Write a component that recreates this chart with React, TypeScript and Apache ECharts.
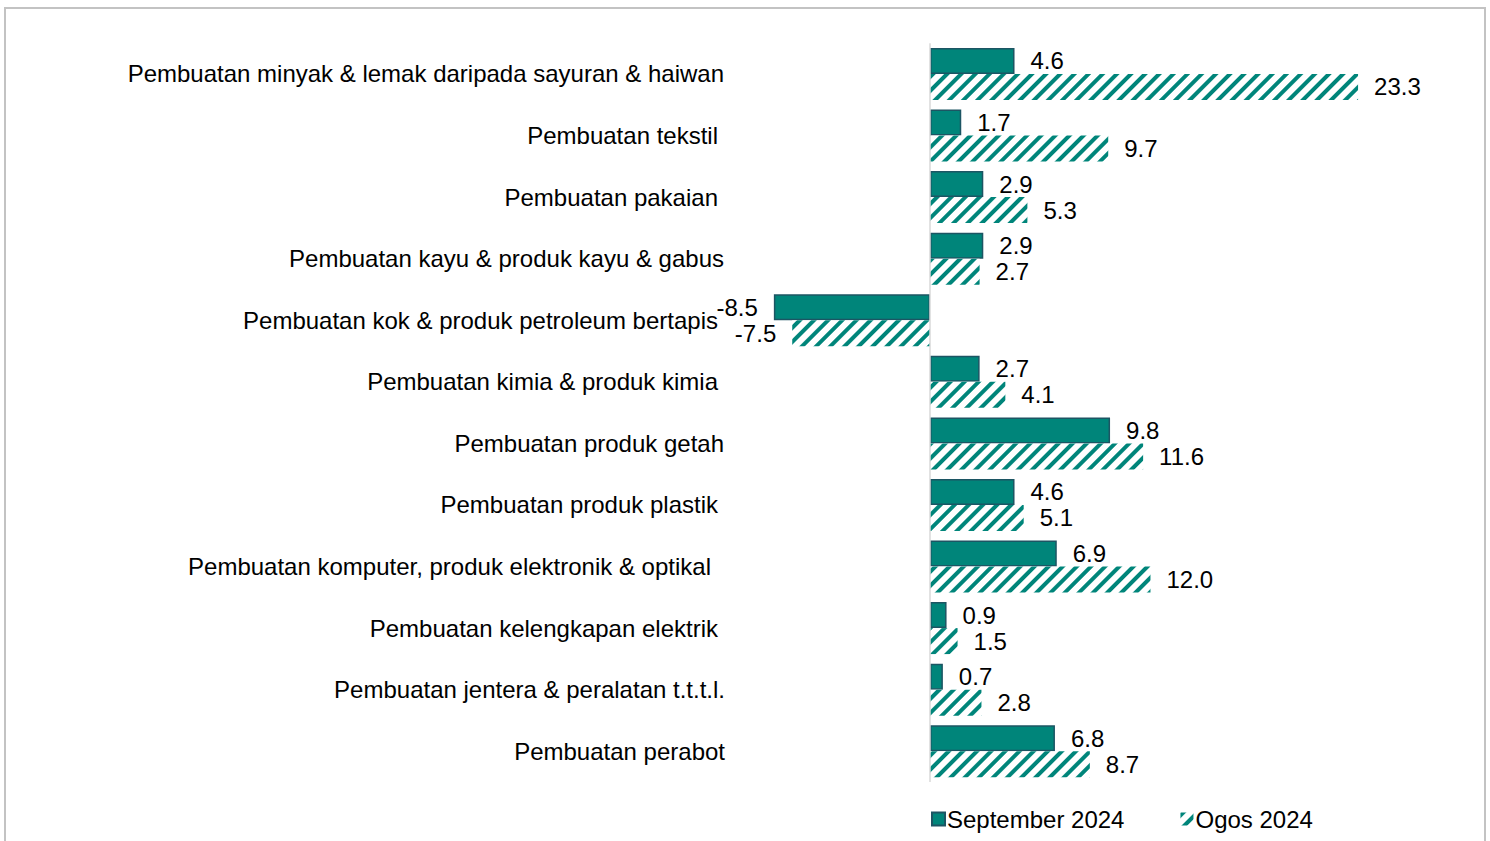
import React, { useEffect, useRef } from "react";
import * as echarts from "echarts";

const categories = [
  "Pembuatan minyak & lemak daripada sayuran & haiwan",
  "Pembuatan tekstil",
  "Pembuatan pakaian",
  "Pembuatan kayu & produk kayu & gabus",
  "Pembuatan kok & produk petroleum bertapis",
  "Pembuatan kimia & produk kimia",
  "Pembuatan produk getah",
  "Pembuatan produk plastik",
  "Pembuatan komputer, produk elektronik & optikal",
  "Pembuatan kelengkapan elektrik",
  "Pembuatan jentera & peralatan t.t.t.l.",
  "Pembuatan perabot",
];
const labelEndPad = [1, 7, 7, 1, 7, 7, 1, 7, 14, 7, 0, 0];
const september2024 = [4.6, 1.7, 2.9, 2.9, -8.5, 2.7, 9.8, 4.6, 6.9, 0.9, 0.7, 6.8];
const ogos2024 = [23.3, 9.7, 5.3, 2.7, -7.5, 4.1, 11.6, 5.1, 12.0, 1.5, 2.8, 8.7];
const seriesNames = ["September 2024", "Ogos 2024"];

const TEAL = "#00857a";
const FONT = "'Liberation Sans', Arial, sans-serif";
const FS = 24;

export default function App() {
  const ref = useRef<HTMLDivElement>(null);
  useEffect(() => {
    if (!ref.current) return;
    const chart = echarts.init(ref.current, null, { renderer: "svg" });
    const mkData = (vals: number[]) =>
      vals.map((v) => ({
        value: v,
        label: { position: v < 0 ? "left" : "right" },
      }));
    const valueLabel = {
      show: true,
      distance: 16,
      fontSize: FS,
      fontFamily: FONT,
      color: "#000",
      formatter: (p: any) => Number(p.value).toFixed(1),
    };
    chart.setOption({
      animation: false,
      backgroundColor: "#fff",
      textStyle: { fontFamily: FONT },
      graphic: [
        {
          type: "rect",
          shape: { x: 5, y: 8, width: 1480, height: 900 },
          style: { fill: "none", stroke: "#c3c3c3", lineWidth: 2 },
          silent: true,
        },
      ],
      grid: {
        left: 746.3,
        width: 643,
        top: 43.2,
        bottom: 59,
        containLabel: false,
        outerBoundsMode: "none",
      },
      xAxis: {
        type: "value",
        min: -10,
        max: 25,
        show: false,
        splitLine: { show: false },
      },
      yAxis: {
        type: "category",
        inverse: true,
        data: categories.map((c, i) => ({
          value: c,
          textStyle: { padding: [0, labelEndPad[i], 0, 0] },
        })),
        axisLine: { show: false },
        axisTick: { show: false },
        axisLabel: {
          margin: 21.3,
          color: "#000",
          fontSize: FS,
          fontFamily: FONT,
        },
      },
      legend: {
        left: 926,
        top: 802,
        itemWidth: 13,
        itemHeight: 13,
        itemGap: 56,
        textStyle: { fontSize: FS, fontFamily: FONT, color: "#000", padding: [0, 0, 0, -3] },
        data: [
          { name: seriesNames[0], icon: "rect" },
          { name: seriesNames[1], icon: "rect" },
        ],
      },
      series: [
        {
          name: seriesNames[0],
          type: "bar",
          barWidth: 26,
          barGap: "0%",
          data: mkData(september2024),
          itemStyle: { color: TEAL, borderColor: "#1c5563", borderWidth: 1.5 },
          label: valueLabel,
          markLine: {
            silent: true,
            symbol: "none",
            label: { show: false },
            lineStyle: { color: "#d9d9d9", width: 1.5, type: "solid" },
            data: [{ xAxis: 0 }],
          },
        },
        {
          name: seriesNames[1],
          type: "bar",
          barWidth: 26,
          barGap: "0%",
          data: mkData(ogos2024),
          itemStyle: {
            color: "#ffffff",
            decal: {
              symbol: "rect",
              color: TEAL,
              backgroundColor: "#ffffff",
              dashArrayX: [1, 0],
              dashArrayY: [3.5, 5.5],
              rotation: -Math.PI / 4,
            },
          },
          label: valueLabel,
        },
      ],
    });
    return () => chart.dispose();
  }, []);
  return (
    <div
      ref={ref}
      style={{ position: "fixed", left: 0, top: 0, width: 1490, height: 841 }}
    />
  );
}
